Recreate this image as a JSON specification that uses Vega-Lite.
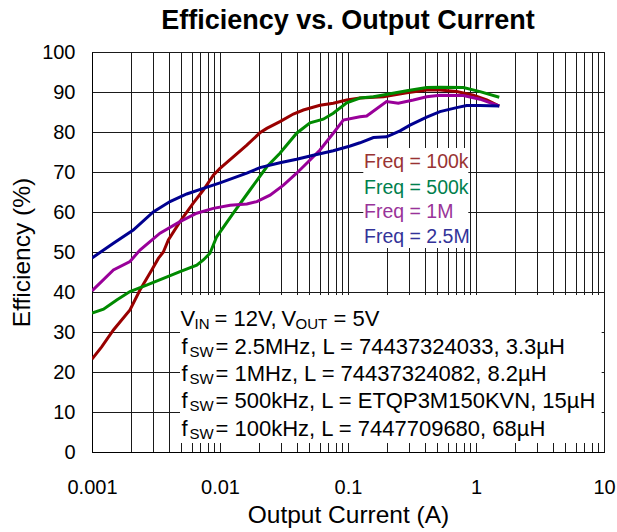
{
  "$schema": "https://vega.github.io/schema/vega-lite/v6.json",
  "autosize": "none",
  "width": 512,
  "height": 400,
  "padding": {"left": 92, "top": 52, "right": 13, "bottom": 80},
  "background": "white",
  "title": {"text": "Efficiency vs. Output Current", "fontSize": 27, "fontWeight": "bold", "font": "Liberation Sans", "anchor": "middle", "offset": 7, "color": "black"},
  "config": {
    "font": "Liberation Sans",
    "view": {"stroke": "black", "strokeWidth": 1},
    "axis": {"grid": true, "ticks": false, "domainColor": "black", "gridColor": "#1a1a1a", "gridWidth": 1, "gridOpacity": 1, "labelColor": "black", "titleColor": "black", "labelFont": "Liberation Sans", "titleFont": "Liberation Sans", "titleFontWeight": "normal", "labelOverlap": false, "labelFontSize": 20, "titleFontSize": 24.5},
    "axisY": {"labelOverlap": false, "labelPadding": 17, "titlePadding": 7},
    "axisX": {"labelPadding": 25, "titlePadding": 6, "labelFlush": false}
  },
  "datasets": {
    "one": [{}],
    "eff": [
      {"I": 0.001, "E": 23.2, "s": "100k"},
      {"I": 0.00119, "E": 26.3, "s": "100k"},
      {"I": 0.00147, "E": 30.5, "s": "100k"},
      {"I": 0.00198, "E": 35.5, "s": "100k"},
      {"I": 0.00237, "E": 40.5, "s": "100k"},
      {"I": 0.00293, "E": 45.5, "s": "100k"},
      {"I": 0.0033, "E": 48.4, "s": "100k"},
      {"I": 0.00361, "E": 50.0, "s": "100k"},
      {"I": 0.00395, "E": 53.0, "s": "100k"},
      {"I": 0.00487, "E": 57.6, "s": "100k"},
      {"I": 0.00618, "E": 62.2, "s": "100k"},
      {"I": 0.00741, "E": 65.5, "s": "100k"},
      {"I": 0.00887, "E": 69.2, "s": "100k"},
      {"I": 0.01, "E": 70.9, "s": "100k"},
      {"I": 0.0127, "E": 73.8, "s": "100k"},
      {"I": 0.0162, "E": 76.7, "s": "100k"},
      {"I": 0.0205, "E": 79.8, "s": "100k"},
      {"I": 0.0232, "E": 80.9, "s": "100k"},
      {"I": 0.0294, "E": 82.6, "s": "100k"},
      {"I": 0.0374, "E": 84.5, "s": "100k"},
      {"I": 0.0448, "E": 85.5, "s": "100k"},
      {"I": 0.0604, "E": 86.7, "s": "100k"},
      {"I": 0.0767, "E": 87.2, "s": "100k"},
      {"I": 0.0977, "E": 88.0, "s": "100k"},
      {"I": 0.124, "E": 88.5, "s": "100k"},
      {"I": 0.189, "E": 88.8, "s": "100k"},
      {"I": 0.288, "E": 89.8, "s": "100k"},
      {"I": 0.412, "E": 90.5, "s": "100k"},
      {"I": 0.523, "E": 90.5, "s": "100k"},
      {"I": 0.706, "E": 90.1, "s": "100k"},
      {"I": 0.953, "E": 89.2, "s": "100k"},
      {"I": 1.213, "E": 88.0, "s": "100k"},
      {"I": 1.52, "E": 86.5, "s": "100k"},

      {"I": 0.001, "E": 34.7, "s": "500k"},
      {"I": 0.00123, "E": 35.7, "s": "500k"},
      {"I": 0.00156, "E": 38.0, "s": "500k"},
      {"I": 0.00198, "E": 40.1, "s": "500k"},
      {"I": 0.00267, "E": 41.7, "s": "500k"},
      {"I": 0.00361, "E": 43.4, "s": "500k"},
      {"I": 0.00487, "E": 45.1, "s": "500k"},
      {"I": 0.00658, "E": 46.7, "s": "500k"},
      {"I": 0.00741, "E": 48.0, "s": "500k"},
      {"I": 0.00835, "E": 49.7, "s": "500k"},
      {"I": 0.00942, "E": 53.8, "s": "500k"},
      {"I": 0.0127, "E": 59.7, "s": "500k"},
      {"I": 0.01715, "E": 65.5, "s": "500k"},
      {"I": 0.0232, "E": 71.3, "s": "500k"},
      {"I": 0.0294, "E": 74.7, "s": "500k"},
      {"I": 0.0397, "E": 79.7, "s": "500k"},
      {"I": 0.0505, "E": 82.3, "s": "500k"},
      {"I": 0.0641, "E": 83.2, "s": "500k"},
      {"I": 0.0767, "E": 84.7, "s": "500k"},
      {"I": 0.0977, "E": 87.3, "s": "500k"},
      {"I": 0.124, "E": 88.5, "s": "500k"},
      {"I": 0.158, "E": 88.8, "s": "500k"},
      {"I": 0.288, "E": 90.3, "s": "500k"},
      {"I": 0.412, "E": 91.1, "s": "500k"},
      {"I": 0.523, "E": 91.2, "s": "500k"},
      {"I": 0.796, "E": 91.1, "s": "500k"},
      {"I": 1.075, "E": 90.1, "s": "500k"},
      {"I": 1.52, "E": 88.7, "s": "500k"},

      {"I": 0.001, "E": 40.3, "s": "1M"},
      {"I": 0.00147, "E": 45.5, "s": "1M"},
      {"I": 0.00198, "E": 47.6, "s": "1M"},
      {"I": 0.00237, "E": 50.5, "s": "1M"},
      {"I": 0.0034, "E": 54.7, "s": "1M"},
      {"I": 0.00487, "E": 57.6, "s": "1M"},
      {"I": 0.00658, "E": 59.7, "s": "1M"},
      {"I": 0.00887, "E": 60.9, "s": "1M"},
      {"I": 0.012, "E": 61.7, "s": "1M"},
      {"I": 0.0162, "E": 62.0, "s": "1M"},
      {"I": 0.0194, "E": 62.6, "s": "1M"},
      {"I": 0.0246, "E": 64.2, "s": "1M"},
      {"I": 0.0313, "E": 66.7, "s": "1M"},
      {"I": 0.0397, "E": 69.7, "s": "1M"},
      {"I": 0.0505, "E": 73.0, "s": "1M"},
      {"I": 0.0604, "E": 75.5, "s": "1M"},
      {"I": 0.0767, "E": 79.7, "s": "1M"},
      {"I": 0.0919, "E": 83.0, "s": "1M"},
      {"I": 0.124, "E": 83.8, "s": "1M"},
      {"I": 0.14, "E": 84.0, "s": "1M"},
      {"I": 0.2, "E": 87.6, "s": "1M"},
      {"I": 0.247, "E": 87.2, "s": "1M"},
      {"I": 0.324, "E": 88.0, "s": "1M"},
      {"I": 0.412, "E": 88.8, "s": "1M"},
      {"I": 0.523, "E": 89.2, "s": "1M"},
      {"I": 0.796, "E": 89.1, "s": "1M"},
      {"I": 1.075, "E": 88.2, "s": "1M"},
      {"I": 1.52, "E": 86.5, "s": "1M"},

      {"I": 0.001, "E": 48.5, "s": "2.5M"},
      {"I": 0.00147, "E": 52.2, "s": "2.5M"},
      {"I": 0.0021, "E": 55.5, "s": "2.5M"},
      {"I": 0.00301, "E": 60.0, "s": "2.5M"},
      {"I": 0.00407, "E": 62.6, "s": "2.5M"},
      {"I": 0.0055, "E": 64.5, "s": "2.5M"},
      {"I": 0.00741, "E": 65.9, "s": "2.5M"},
      {"I": 0.01, "E": 67.3, "s": "2.5M"},
      {"I": 0.0162, "E": 69.7, "s": "2.5M"},
      {"I": 0.0205, "E": 71.1, "s": "2.5M"},
      {"I": 0.0294, "E": 72.3, "s": "2.5M"},
      {"I": 0.0397, "E": 73.2, "s": "2.5M"},
      {"I": 0.0536, "E": 74.2, "s": "2.5M"},
      {"I": 0.0767, "E": 75.3, "s": "2.5M"},
      {"I": 0.104, "E": 76.5, "s": "2.5M"},
      {"I": 0.124, "E": 77.3, "s": "2.5M"},
      {"I": 0.158, "E": 78.6, "s": "2.5M"},
      {"I": 0.2, "E": 78.8, "s": "2.5M"},
      {"I": 0.255, "E": 80.3, "s": "2.5M"},
      {"I": 0.305, "E": 81.7, "s": "2.5M"},
      {"I": 0.412, "E": 83.7, "s": "2.5M"},
      {"I": 0.523, "E": 85.1, "s": "2.5M"},
      {"I": 0.706, "E": 86.1, "s": "2.5M"},
      {"I": 0.846, "E": 86.6, "s": "2.5M"},
      {"I": 1.075, "E": 86.6, "s": "2.5M"},
      {"I": 1.52, "E": 86.5, "s": "2.5M"}
    ]
  },
  "layer": [
    {
      "data": {"name": "eff"},
      "mark": {"type": "line", "strokeWidth": 3, "clip": true},
      "encoding": {
        "x": {
          "field": "I", "type": "quantitative",
          "scale": {"type": "log", "domain": [0.001, 10]},
          "axis": {
            "title": "Output Current (A)",
            "values": [0.001,0.002,0.003,0.004,0.005,0.006,0.007,0.008,0.009,0.01,0.02,0.03,0.04,0.05,0.06,0.07,0.08,0.09,0.1,0.2,0.3,0.4,0.5,0.6,0.7,0.8,0.9,1,2,3,4,5,6,7,8,9,10],
            "format": "~g",
            "labelExpr": "(datum.value==0.001||datum.value==0.01||datum.value==0.1||datum.value==1||datum.value==10) ? datum.label : ''"
          }
        },
        "y": {
          "field": "E", "type": "quantitative",
          "scale": {"domain": [0, 100], "nice": false},
          "axis": {"title": "Efficiency (%)", "values": [0,10,20,30,40,50,60,70,80,90,100], "labelOverlap": false}
        },
        "color": {
          "field": "s", "type": "nominal", "legend": null,
          "scale": {"domain": ["100k", "500k", "1M", "2.5M"], "range": ["#990000", "#008a00", "#990099", "#000090"]}
        }
      }
    },
    {
      "data": {"name": "one"},
      "mark": {"type": "rect", "fill": "white"},
      "encoding": {
        "x": {"datum": 0.00487, "type": "quantitative"},
        "x2": {"datum": 9.59},
        "y": {"datum": 2.25, "type": "quantitative", "axis": {"title": "Efficiency (%)", "values": [0,10,20,30,40,50,60,70,80,90,100], "labelOverlap": false}},
        "y2": {"datum": 39.25}
      }
    },
    {
      "data": {"name": "one"},
      "mark": {"type": "rect", "fill": "white"},
      "encoding": {
        "x": {"datum": 0.1317, "type": "quantitative"},
        "x2": {"datum": 0.8705},
        "y": {"datum": 51, "type": "quantitative", "axis": {"title": "Efficiency (%)", "values": [0,10,20,30,40,50,60,70,80,90,100], "labelOverlap": false}},
        "y2": {"datum": 76}
      }
    },
    {"data": {"name": "one"}, "mark": {"type": "text", "text": "Freq = 100k", "fontSize": 19.5, "align": "left", "baseline": "alphabetic", "color": "#993333"},
     "encoding": {"x": {"datum": 0.1334, "type": "quantitative"}, "y": {"datum": 71, "type": "quantitative", "axis": {"title": "Efficiency (%)", "values": [0,10,20,30,40,50,60,70,80,90,100], "labelOverlap": false}}}},
    {"data": {"name": "one"}, "mark": {"type": "text", "text": "Freq = 500k", "fontSize": 19.5, "align": "left", "baseline": "alphabetic", "color": "#00804d"},
     "encoding": {"x": {"datum": 0.1334, "type": "quantitative"}, "y": {"datum": 64.6, "type": "quantitative", "axis": {"title": "Efficiency (%)", "values": [0,10,20,30,40,50,60,70,80,90,100], "labelOverlap": false}}}},
    {"data": {"name": "one"}, "mark": {"type": "text", "text": "Freq = 1M", "fontSize": 19.5, "align": "left", "baseline": "alphabetic", "color": "#993399"},
     "encoding": {"x": {"datum": 0.1334, "type": "quantitative"}, "y": {"datum": 58.4, "type": "quantitative", "axis": {"title": "Efficiency (%)", "values": [0,10,20,30,40,50,60,70,80,90,100], "labelOverlap": false}}}},
    {"data": {"name": "one"}, "mark": {"type": "text", "text": "Freq = 2.5M", "fontSize": 19.5, "align": "left", "baseline": "alphabetic", "color": "#333399"},
     "encoding": {"x": {"datum": 0.1334, "type": "quantitative"}, "y": {"datum": 52.25, "type": "quantitative", "axis": {"title": "Efficiency (%)", "values": [0,10,20,30,40,50,60,70,80,90,100], "labelOverlap": false}}}},

    {"data": {"name": "one"}, "mark": {"type": "text", "text": "V", "fontSize": 22, "align": "left", "baseline": "alphabetic", "color": "black", "dx": -1},
     "encoding": {"x": {"datum": 0.005, "type": "quantitative"}, "y": {"datum": 31.5, "type": "quantitative", "axis": {"title": "Efficiency (%)", "values": [0,10,20,30,40,50,60,70,80,90,100], "labelOverlap": false}}}},
    {"data": {"name": "one"}, "mark": {"type": "text", "text": "IN", "fontSize": 15, "align": "left", "baseline": "alphabetic", "color": "black", "dx": 13, "dy": 3},
     "encoding": {"x": {"datum": 0.005, "type": "quantitative"}, "y": {"datum": 31.5, "type": "quantitative", "axis": {"title": "Efficiency (%)", "values": [0,10,20,30,40,50,60,70,80,90,100], "labelOverlap": false}}}},
    {"data": {"name": "one"}, "mark": {"type": "text", "text": "= 12V,", "fontSize": 22, "align": "left", "baseline": "alphabetic", "color": "black", "dx": 33},
     "encoding": {"x": {"datum": 0.005, "type": "quantitative"}, "y": {"datum": 31.5, "type": "quantitative", "axis": {"title": "Efficiency (%)", "values": [0,10,20,30,40,50,60,70,80,90,100], "labelOverlap": false}}}},
    {"data": {"name": "one"}, "mark": {"type": "text", "text": "V", "fontSize": 22, "align": "left", "baseline": "alphabetic", "color": "black", "dx": 100},
     "encoding": {"x": {"datum": 0.005, "type": "quantitative"}, "y": {"datum": 31.5, "type": "quantitative", "axis": {"title": "Efficiency (%)", "values": [0,10,20,30,40,50,60,70,80,90,100], "labelOverlap": false}}}},
    {"data": {"name": "one"}, "mark": {"type": "text", "text": "OUT", "fontSize": 15, "align": "left", "baseline": "alphabetic", "color": "black", "dx": 114, "dy": 3},
     "encoding": {"x": {"datum": 0.005, "type": "quantitative"}, "y": {"datum": 31.5, "type": "quantitative", "axis": {"title": "Efficiency (%)", "values": [0,10,20,30,40,50,60,70,80,90,100], "labelOverlap": false}}}},
    {"data": {"name": "one"}, "mark": {"type": "text", "text": "= 5V", "fontSize": 22, "align": "left", "baseline": "alphabetic", "color": "black", "dx": 152},
     "encoding": {"x": {"datum": 0.005, "type": "quantitative"}, "y": {"datum": 31.5, "type": "quantitative", "axis": {"title": "Efficiency (%)", "values": [0,10,20,30,40,50,60,70,80,90,100], "labelOverlap": false}}}},

    {"data": {"name": "one"}, "mark": {"type": "text", "text": "f", "fontSize": 22, "align": "left", "baseline": "alphabetic", "color": "black"},
     "encoding": {"x": {"datum": 0.005, "type": "quantitative"}, "y": {"datum": 24.6, "type": "quantitative", "axis": {"title": "Efficiency (%)", "values": [0,10,20,30,40,50,60,70,80,90,100], "labelOverlap": false}}}},
    {"data": {"name": "one"}, "mark": {"type": "text", "text": "SW", "fontSize": 15, "align": "left", "baseline": "alphabetic", "color": "black", "dx": 8, "dy": 3},
     "encoding": {"x": {"datum": 0.005, "type": "quantitative"}, "y": {"datum": 24.6, "type": "quantitative", "axis": {"title": "Efficiency (%)", "values": [0,10,20,30,40,50,60,70,80,90,100], "labelOverlap": false}}}},
    {"data": {"name": "one"}, "mark": {"type": "text", "text": "= 2.5MHz, L = 74437324033, 3.3µH", "fontSize": 22, "align": "left", "baseline": "alphabetic", "color": "black", "dx": 34},
     "encoding": {"x": {"datum": 0.005, "type": "quantitative"}, "y": {"datum": 24.6, "type": "quantitative", "axis": {"title": "Efficiency (%)", "values": [0,10,20,30,40,50,60,70,80,90,100], "labelOverlap": false}}}},

    {"data": {"name": "one"}, "mark": {"type": "text", "text": "f", "fontSize": 22, "align": "left", "baseline": "alphabetic", "color": "black"},
     "encoding": {"x": {"datum": 0.005, "type": "quantitative"}, "y": {"datum": 17.75, "type": "quantitative", "axis": {"title": "Efficiency (%)", "values": [0,10,20,30,40,50,60,70,80,90,100], "labelOverlap": false}}}},
    {"data": {"name": "one"}, "mark": {"type": "text", "text": "SW", "fontSize": 15, "align": "left", "baseline": "alphabetic", "color": "black", "dx": 8, "dy": 3},
     "encoding": {"x": {"datum": 0.005, "type": "quantitative"}, "y": {"datum": 17.75, "type": "quantitative", "axis": {"title": "Efficiency (%)", "values": [0,10,20,30,40,50,60,70,80,90,100], "labelOverlap": false}}}},
    {"data": {"name": "one"}, "mark": {"type": "text", "text": "= 1MHz, L = 74437324082, 8.2µH", "fontSize": 22, "align": "left", "baseline": "alphabetic", "color": "black", "dx": 34},
     "encoding": {"x": {"datum": 0.005, "type": "quantitative"}, "y": {"datum": 17.75, "type": "quantitative", "axis": {"title": "Efficiency (%)", "values": [0,10,20,30,40,50,60,70,80,90,100], "labelOverlap": false}}}},

    {"data": {"name": "one"}, "mark": {"type": "text", "text": "f", "fontSize": 22, "align": "left", "baseline": "alphabetic", "color": "black"},
     "encoding": {"x": {"datum": 0.005, "type": "quantitative"}, "y": {"datum": 10.9, "type": "quantitative", "axis": {"title": "Efficiency (%)", "values": [0,10,20,30,40,50,60,70,80,90,100], "labelOverlap": false}}}},
    {"data": {"name": "one"}, "mark": {"type": "text", "text": "SW", "fontSize": 15, "align": "left", "baseline": "alphabetic", "color": "black", "dx": 8, "dy": 3},
     "encoding": {"x": {"datum": 0.005, "type": "quantitative"}, "y": {"datum": 10.9, "type": "quantitative", "axis": {"title": "Efficiency (%)", "values": [0,10,20,30,40,50,60,70,80,90,100], "labelOverlap": false}}}},
    {"data": {"name": "one"}, "mark": {"type": "text", "text": "= 500kHz, L = ETQP3M150KVN, 15µH", "fontSize": 22, "align": "left", "baseline": "alphabetic", "color": "black", "dx": 34},
     "encoding": {"x": {"datum": 0.005, "type": "quantitative"}, "y": {"datum": 10.9, "type": "quantitative", "axis": {"title": "Efficiency (%)", "values": [0,10,20,30,40,50,60,70,80,90,100], "labelOverlap": false}}}},

    {"data": {"name": "one"}, "mark": {"type": "text", "text": "f", "fontSize": 22, "align": "left", "baseline": "alphabetic", "color": "black"},
     "encoding": {"x": {"datum": 0.005, "type": "quantitative"}, "y": {"datum": 4.0, "type": "quantitative", "axis": {"title": "Efficiency (%)", "values": [0,10,20,30,40,50,60,70,80,90,100], "labelOverlap": false}}}},
    {"data": {"name": "one"}, "mark": {"type": "text", "text": "SW", "fontSize": 15, "align": "left", "baseline": "alphabetic", "color": "black", "dx": 8, "dy": 3},
     "encoding": {"x": {"datum": 0.005, "type": "quantitative"}, "y": {"datum": 4.0, "type": "quantitative", "axis": {"title": "Efficiency (%)", "values": [0,10,20,30,40,50,60,70,80,90,100], "labelOverlap": false}}}},
    {"data": {"name": "one"}, "mark": {"type": "text", "text": "= 100kHz, L = 7447709680, 68µH", "fontSize": 22, "align": "left", "baseline": "alphabetic", "color": "black", "dx": 34},
     "encoding": {"x": {"datum": 0.005, "type": "quantitative"}, "y": {"datum": 4.0, "type": "quantitative", "axis": {"title": "Efficiency (%)", "values": [0,10,20,30,40,50,60,70,80,90,100], "labelOverlap": false}}}}
  ]
}
